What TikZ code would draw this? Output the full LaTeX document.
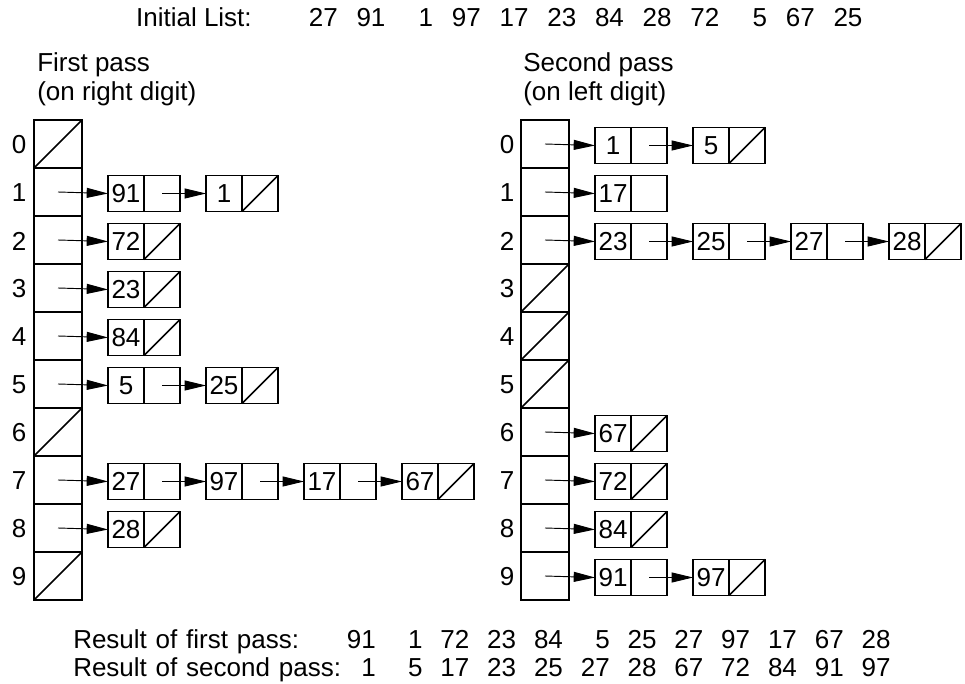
\documentclass[tikz,border=0pt]{standalone}
\usepackage{fontspec}
\setmainfont{Liberation Sans}
\usetikzlibrary{arrows.meta}
\tikzset{
  cellbox/.style={draw, line width=1.3pt, minimum width=36pt, minimum height=36pt, inner sep=0pt, outer sep=0pt},
  halfbox/.style={draw, line width=1.3pt, minimum width=27pt, minimum height=27pt, inner sep=0pt, outer sep=0pt},
  nullmark/.style={line width=1.2pt},
  ptr/.style={line width=0.7pt, -{Triangle[length=16pt,width=7.5pt]}},
  lbl/.style={inner sep=0pt, anchor=base},
  idx/.style={inner sep=0pt},
}
\newcommand\lnode[4]{%
  \node[halfbox] (#1d) at (#2+18,#3) {#4};
  \node[halfbox] (#1p) at (#2+54,#3) {};
}
\begin{document}
\begin{tikzpicture}[x=0.75pt,y=-0.75pt,font=\fontsize{19.5}{23}\selectfont]
\useasboundingbox (0,0) rectangle (965,684);
% titles
\node[lbl, anchor=base east] (init) at (252,27) {Initial List:};
\foreach \v [count=\k from 0] in {27,91,1,97,17,23,84,28,72,5,67,25}
  \node[lbl, anchor=base east] (i\k) at (338+47.7*\k,27) {\v};
\node[lbl, anchor=base west] (fp1) at (37,72) {First pass};
\node[lbl, anchor=base west] (fp2) at (37,101) {(on right digit)};
\node[lbl, anchor=base west] (sp1) at (523,72) {Second pass};
\node[lbl, anchor=base west] (sp2) at (523,101) {(on left digit)};
% arrays
\foreach \i in {0,...,9}{
  \node[cellbox] (A\i) at (58,144+48*\i) {};
  \node[cellbox] (B\i) at (545,144+48*\i) {};
  \node[idx] (ai\i) at (19,145+48*\i) {\i};
  \node[idx] (bi\i) at (507,145+48*\i) {\i};
}
\foreach \i in {0,6,9} \draw[nullmark] (A\i.south west) -- (A\i.north east);
\foreach \i in {3,4,5} \draw[nullmark] (B\i.south west) -- (B\i.north east);
% ---- first pass lists
\lnode{La}{108}{193.5}{91} \lnode{Lb}{206}{193.5}{1}
\lnode{Lc}{108}{241.5}{72}
\lnode{Ld}{108}{289.5}{23}
\lnode{Le}{108}{337.5}{84}
\lnode{Lf}{108}{385.5}{5} \lnode{Lg}{206}{385.5}{25}
\lnode{Lh}{108}{481.5}{27} \lnode{Li}{206}{481.5}{97} \lnode{Lj}{304}{481.5}{17} \lnode{Lk}{402}{481.5}{67}
\lnode{Ll}{108}{529.5}{28}
\draw[ptr] (A1.center) -- (Lad.west);
\draw[ptr] (Lap.center) -- (Lbd.west);
\draw[ptr] (A2.center) -- (Lcd.west);
\draw[ptr] (A3.center) -- (Ldd.west);
\draw[ptr] (A4.center) -- (Led.west);
\draw[ptr] (A5.center) -- (Lfd.west);
\draw[ptr] (Lfp.center) -- (Lgd.west);
\draw[ptr] (A7.center) -- (Lhd.west);
\draw[ptr] (Lhp.center) -- (Lid.west);
\draw[ptr] (Lip.center) -- (Ljd.west);
\draw[ptr] (Ljp.center) -- (Lkd.west);
\draw[ptr] (A8.center) -- (Lld.west);
\foreach \n in {Lb,Lc,Ld,Le,Lg,Lk,Ll}
  \draw[nullmark] (\n p.south west) -- (\n p.north east);
% ---- second pass lists
\lnode{Ra}{595}{145.5}{1} \lnode{Rb}{693}{145.5}{5}
\lnode{Rc}{595}{193.5}{17}
\lnode{Rd}{595}{241.5}{23} \lnode{Re}{693}{241.5}{25} \lnode{Rf}{791}{241.5}{27} \lnode{Rg}{889}{241.5}{28}
\lnode{Rh}{595}{433.5}{67}
\lnode{Ri}{595}{481.5}{72}
\lnode{Rj}{595}{529.5}{84}
\lnode{Rk}{595}{577.5}{91} \lnode{Rl}{693}{577.5}{97}
\draw[ptr] (B0.center) -- (Rad.west);
\draw[ptr] (Rap.center) -- (Rbd.west);
\draw[ptr] (B1.center) -- (Rcd.west);
\draw[ptr] (B2.center) -- (Rdd.west);
\draw[ptr] (Rdp.center) -- (Red.west);
\draw[ptr] (Rep.center) -- (Rfd.west);
\draw[ptr] (Rfp.center) -- (Rgd.west);
\draw[ptr] (B6.center) -- (Rhd.west);
\draw[ptr] (B7.center) -- (Rid.west);
\draw[ptr] (B8.center) -- (Rjd.west);
\draw[ptr] (B9.center) -- (Rkd.west);
\draw[ptr] (Rkp.center) -- (Rld.west);
\foreach \n in {Rb,Rg,Rh,Ri,Rj,Rl}
  \draw[nullmark] (\n p.south west) -- (\n p.north east);
% results
\node[lbl, anchor=base west] (r1) at (73,648) {\spaceskip=6.6pt Result of first pass:};
\node[lbl, anchor=base west] (r2) at (73,676) {\spaceskip=6.6pt Result of second pass:};
\foreach \v [count=\k from 0] in {91,1,72,23,84,5,25,27,97,17,67,28}
  \node[lbl, anchor=base east] (p\k) at (376+46.8*\k,648) {\v};
\foreach \v [count=\k from 0] in {1,5,17,23,25,27,28,67,72,84,91,97}
  \node[lbl, anchor=base east] (q\k) at (376+46.8*\k,676) {\v};
\end{tikzpicture}
\end{document}
